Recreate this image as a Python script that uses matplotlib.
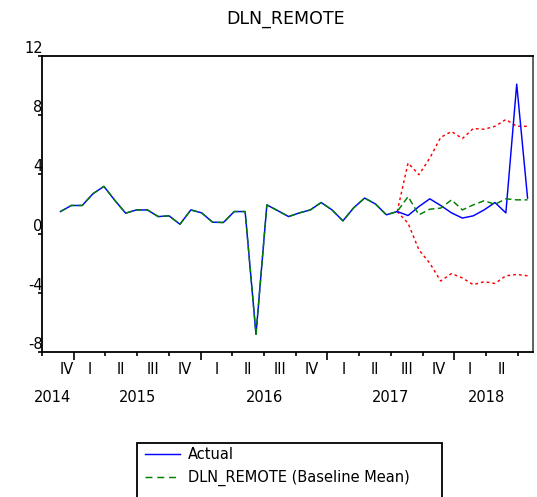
import matplotlib
matplotlib.use("Agg")
import matplotlib.pyplot as plt
import matplotlib.transforms as mtransforms
from matplotlib.patches import Rectangle
from matplotlib.lines import Line2D
import numpy as np

plt.rcParams['font.family'] = ['DejaVu Sans']
plt.rcParams['lines.scale_dashes'] = False

# ---------------- data (monthly observations) ----------------
actual = [1.49, 1.9, 1.9, 2.7, 3.19, 2.25, 1.38, 1.6, 1.6, 1.15, 1.2, 0.63,
          1.6, 1.4, 0.77, 0.75, 1.49, 1.49, -6.8, 1.94, 1.55, 1.15, 1.4, 1.6,
          2.1, 1.6, 0.86, 1.75, 2.4, 2.0, 1.27, 1.49, 1.22, 1.83, 2.35, 1.9,
          1.4, 1.05, 1.2, 1.6, 2.1, 1.4, 10.1, 2.4]
forecast_start = 31
baseline_forecast = [1.49, 2.5, 1.27, 1.65, 1.72, 2.28, 1.6, 1.94, 2.22,
                     1.98, 2.35, 2.28, 2.28]
band_upper = [1.49, 4.77, 3.98, 5.1, 6.5, 6.9, 6.42, 7.1, 7.05, 7.25, 7.71,
              7.25, 7.25]
band_lower = [1.49, 0.7, -1.1, -2.0, -3.2, -2.7, -3.0, -3.45, -3.25, -3.37,
              -2.85, -2.76, -2.85]
baseline_mean = actual[:forecast_start] + baseline_forecast

quarter_labels = ['IV', 'I', 'II', 'III', 'IV', 'I', 'II', 'III', 'IV',
                  'I', 'II', 'III', 'IV', 'I', 'II']
year_labels = ['2014', '2015', '2016', '2017', '2018']
y_ticks = [-8, -4, 0, 4, 8, 12]

# ---------------- figure ----------------
W, H = 537, 497
fig = plt.figure(figsize=(W / 100, H / 100), dpi=100)
ax_l, ax_r, ax_t, ax_b = 42, 533, 56, 352
ax = fig.add_axes([ax_l / W, 1 - ax_b / H, (ax_r - ax_l) / W, (ax_b - ax_t) / H])

t_all = np.arange(len(actual))
t_fc = np.arange(forecast_start, forecast_start + len(baseline_forecast))

ax.plot(t_all, actual, color='#0000ff', lw=1.05, zorder=3)
ax.plot(t_all, baseline_mean, color='#008000', lw=1.05, dashes=(4.5, 2.5), zorder=4)
ax.plot(t_fc, band_upper, color='#ff0000', lw=1.05, dashes=(2.0, 2.2), zorder=2)
ax.plot(t_fc, band_lower, color='#ff0000', lw=1.05, dashes=(2.0, 2.2), zorder=2)

ax.set_xlim(-1.7, 43.5)
ax.set_ylim(-8, 12)

# quarter boundaries
q0 = 1.22
qw = 2.92
q_bounds = [q0 + qw * k for k in range(-1, 15)]
year_bounds = [q0 + qw * k for k in (0, 4, 8, 12)]
minor_b = [b for b in q_bounds if all(abs(b - y) > 1e-6 for y in year_bounds)]
ax.set_xticks(year_bounds)
ax.set_xticks(minor_b, minor=True)
ax.set_xticklabels([])
ax.tick_params(axis='x', which='major', direction='out', length=5.5, width=1.2,
               top=False)
ax.tick_params(axis='x', which='minor', direction='out', length=3, width=1.2,
               top=False)

ax.set_yticks(y_ticks)
ax.set_yticklabels([str(v) for v in y_ticks])
ax.tick_params(axis='y', direction='out', length=3, width=1.2, pad=-3.5,
               labelsize=10.5, right=False)
for lab in ax.get_yticklabels():
    lab.set_verticalalignment('bottom')

for s in ax.spines.values():
    s.set_linewidth(1.3)
    s.set_color('black')
ax.spines['right'].set_color('#555555')

# x labels
trans = mtransforms.blended_transform_factory(ax.transData, ax.transAxes)
q_pos = [q0 - 0.64] + [q0 + qw * k + qw / 2 for k in range(14)]
for lab, x in zip(quarter_labels, q_pos):
    ax.text(x, -17 / 296, lab, transform=trans, ha='center', va='center',
            fontsize=10.5)
y_pos = [-0.71, q0 + 2 * qw, q0 + 6 * qw, q0 + 10 * qw, q0 + 13 * qw]
for lab, x in zip(year_labels, y_pos):
    ax.text(x, -46 / 296, lab, transform=trans, ha='center', va='center',
            fontsize=10.5)

# title
fig.text(286 / W, 1 - 19 / H, 'DLN_REMOTE', ha='center', va='center',
         fontsize=12.5)

# legend (box extends below the figure edge)
leg_box = Rectangle((137 / W, -0.05), (442 - 137) / W, (1 - 443 / H) + 0.05,
                    transform=fig.transFigure, fill=False, edgecolor='black',
                    lw=1.3)
fig.patches.append(leg_box)
handles = [Line2D([], [], color='#0000ff', lw=1.05),
           Line2D([], [], color='#008000', lw=1.05, dashes=(5, 3.5))]
fig.legend(handles, ['Actual', 'DLN_REMOTE (Baseline Mean)'],
           loc='upper left', bbox_to_anchor=(142 / W, 1 - 444 / H),
           frameon=False, fontsize=10.5, handlelength=2.4,
           handletextpad=0.55, labelspacing=0.55, borderpad=0.2,
           borderaxespad=0)

fig.savefig('out.png', dpi=100)
